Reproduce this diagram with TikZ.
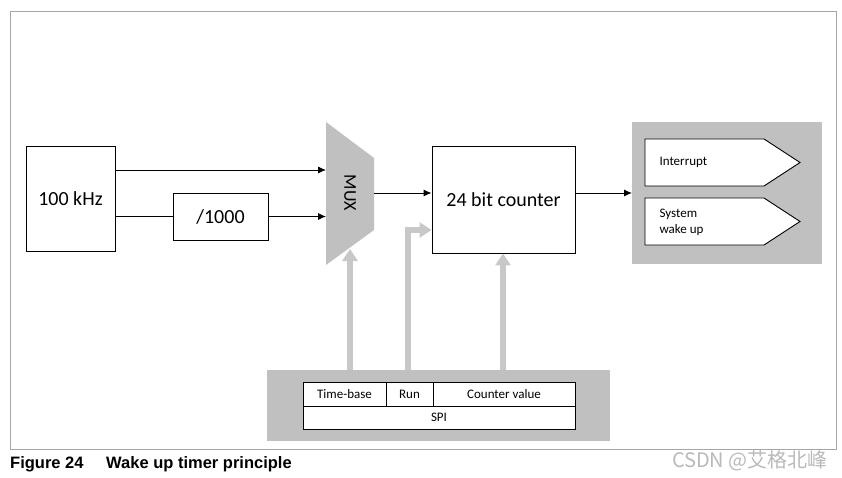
\documentclass[tikz,border=0pt]{standalone}
\usepackage{fontspec}
\setmainfont{Carlito}
\newfontfamily\capfont{Liberation Sans}
\newfontfamily\cjkfont{Noto Sans CJK SC}
\usetikzlibrary{arrows.meta}
\usetikzlibrary{positioning}
\definecolor{panelgray}{RGB}{192,192,192}
\definecolor{arrowgray}{RGB}{200,200,200}
\tikzset{blk/.style = {draw, fill=white, inner sep = 0, line width = 0.9pt},
         sig/.style = {draw, fill=white, line width = 0.9pt},
         big/.style = {font = \fontsize{20}{24}\selectfont},
         small/.style = {font = \fontsize{13}{16}\selectfont},
         garrow/.style = {draw=arrowgray, line width = 5.5pt, -{Triangle[width=15pt, length=12pt]}},
         karrow/.style = {line width = 0.9pt, -{Latex[length=8pt, width=7pt]}}}

\begin{document}
\begin{tikzpicture}[x=1pt, y=-1pt]
          \useasboundingbox (0, 0) rectangle (842, 478);
          \draw [gray!70, line width = 1pt] (10, 12) rectangle (836, 449);

          % clock, divider, mux, counter
          \node [blk, big, minimum width = 89, minimum height = 105] (osc) at (70.5, 198.5) {100 kHz};
          \node [blk, big, minimum width = 95, minimum height = 47] (div) at (220.5, 216.5) {/1000};
          \coordinate (m1) at (326, 122);
          \coordinate (m2) at (374, 158);
          \coordinate (m3) at (374, 230);
          \coordinate (m4) at (326, 265);
          \fill [panelgray] (m1) -- (m2) -- (m3) -- (m4) -- cycle;
          \node [rotate = -90, font = \fontsize{18}{21}\selectfont] (mux) at (350, 193) {MUX};
          \node [blk, big, minimum width = 143, minimum height = 107] (cnt) at (503.5, 199.5) {24 bit counter};

          % outputs
          \fill [panelgray] (632, 122) rectangle (822, 264);
          \coordinate (outp) at (632, 193);
          \draw [sig] (645, 139) -- (764, 139) -- (800, 162.5) -- (764, 186) -- (645, 186) -- cycle;
          \draw [sig] (645, 198) -- (764, 198) -- (800, 221.5) -- (764, 245) -- (645, 245) -- cycle;
          \node [small, anchor = west] (irq) at (656, 162.5) {Interrupt};
          \node [small, anchor = west, align = left] (wake) at (656, 222) {System\\wake up};

          % spi
          \fill [panelgray] (267, 370) rectangle (610, 441);
          \node [blk, small, minimum width = 83, minimum height = 24] (tb) at (344.5, 394) {Time-base};
          \node [blk, small, minimum width = 47, minimum height = 24] (run) at (409.5, 394) {Run};
          \node [blk, small, minimum width = 142, minimum height = 24] (cv) at (504, 394) {Counter value};
          \node [blk, small, minimum width = 272, minimum height = 23] (spi) at (439, 417.5) {SPI};

          \coordinate (g1) at (350, 370);
          \coordinate (g2) at (408, 370);
          \coordinate (g3) at (503, 370);
          \draw [garrow] (g1) -- (350, 249);
          \draw [garrow] (g2) -- (408, 230) -- (cnt.west |- 0, 230);
          \draw [garrow] (g3) -- (cnt.south -| g3);

          \draw [karrow] (osc.east |- 0, 170) -- (m1 |- 0, 170);
          \draw [line width = 0.9pt] (osc.east |- div) -- (div.west);
          \draw [karrow] (div.east) -- (m1 |- div);
          \draw [karrow] (374, 193) -- (cnt.west |- 0, 193);
          \draw [karrow] (cnt.east |- 0, 193) -- (outp);

          \node [anchor = base west, inner sep = 0, font = \capfont\bfseries\fontsize{16.5}{19}\selectfont] (fig) at (10, 468) {Figure 24};
          \node [anchor = base west, inner sep = 0, font = \capfont\bfseries\fontsize{16.5}{19}\selectfont] (ttl) at (106, 468) {Wake up timer principle};
          \node [anchor = base east, inner sep = 0, text = gray!55, font = \cjkfont\fontsize{20}{23}\selectfont] (wm) at (828, 467) {CSDN @艾格北峰};
        \end{tikzpicture}
\end{document}
